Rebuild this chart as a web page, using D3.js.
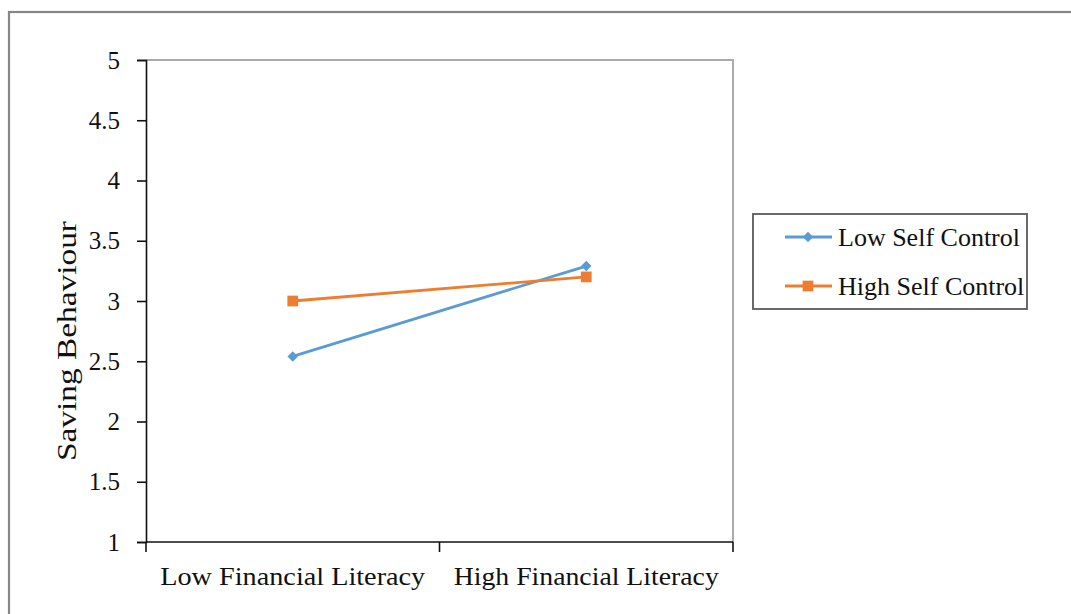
<!DOCTYPE html>
<html>
<head>
<meta charset="utf-8">
<script src="https://cdn.jsdelivr.net/npm/d3@7"></script>
<style>
  html, body { margin: 0; padding: 0; background: #fff; }
  svg { display: block; }
  text { font-family: "Liberation Serif", "Times New Roman", serif; fill: #111; }
</style>
</head>
<body>
<script>
// Categories on the x axis
const categories = ["Low Financial Literacy", "High Financial Literacy"];
// Series names (legend order)
const seriesNames = ["Low Self Control", "High Self Control"];
// Saving behaviour means per category
const lowSelfControl = [2.54, 3.29];
const highSelfControl = [3.00, 3.20];
// Y axis tick values
const yTicks = [1, 1.5, 2, 2.5, 3, 3.5, 4, 4.5, 5];

const W = 1071, H = 614;
const plot = { left: 146, right: 733, top: 60, bottom: 542 };
const colors = ["#5B9BD5", "#ED7D31"];

const svg = d3.select("body").append("svg").attr("width", W).attr("height", H);

// Outer chart frame (runs past the right and bottom edges)
svg.append("rect")
  .attr("x", 9).attr("y", 12).attr("width", 1080).attr("height", 620)
  .attr("fill", "none").attr("stroke", "#878787").attr("stroke-width", 2.2);

const x = d3.scaleBand().domain(categories).range([plot.left, plot.right]);
const y = d3.scaleLinear().domain([1, 5]).range([plot.bottom, plot.top]);

// Plot area border on top and right
svg.append("path")
  .attr("d", `M${plot.left},${y(5)}H${plot.right}V${plot.bottom}`)
  .attr("fill", "none").attr("stroke", "#ababab").attr("stroke-width", 2);

// Y axis
const yAxis = d3.axisLeft(y).tickValues(yTicks).tickSize(9).tickPadding(17)
  .tickFormat(d => d3.format("")(d));
const gy = svg.append("g").attr("transform", `translate(${plot.left},0)`).call(yAxis);
gy.attr("font-size", null).attr("font-family", null);
gy.select(".domain").attr("stroke", "#111").attr("stroke-width", 1.6);
gy.selectAll(".tick line").attr("stroke", "#111").attr("stroke-width", 1.6);
gy.selectAll(".tick text").style("font-size", "25px")
  .attr("fill", "#111");

// X axis: ticks at band boundaries
const gx = svg.append("g").attr("transform", `translate(0,${plot.bottom})`);
gx.append("line").attr("x1", plot.left).attr("x2", plot.right)
  .attr("stroke", "#111").attr("stroke-width", 1.6);
const boundaries = [plot.left, ...categories.map(c => x(c) + x.bandwidth())];
gx.selectAll("line.tk").data(boundaries).join("line").attr("class", "tk")
  .attr("x1", d => d).attr("x2", d => d).attr("y1", 0).attr("y2", 10)
  .attr("stroke", "#111").attr("stroke-width", 1.6);
gx.selectAll("text").data(categories).join("text")
  .attr("x", d => x(d) + x.bandwidth() / 2)
  .attr("y", 43)
  .attr("text-anchor", "middle")
  .style("font-size", "26px")
  .attr("textLength", 265).attr("lengthAdjust", "spacingAndGlyphs")
  .text(d => d);

// Y axis title
svg.append("text")
  .attr("transform", `translate(76,341) rotate(-90)`)
  .attr("text-anchor", "middle")
  .style("font-size", "27px")
  .attr("textLength", 240).attr("lengthAdjust", "spacingAndGlyphs")
  .text("Saving Behaviour");

// Series lines and markers
const series = [lowSelfControl, highSelfControl];
const cx = i => x(categories[i]) + x.bandwidth() / 2;
const line = d3.line().x((d, i) => cx(i)).y(d => y(d));
// Diamond: a square turned 45 degrees; square marker as is
const markers = [
  { path: d3.symbol().type(d3.symbolSquare).size(55)(), rot: 45 },
  { path: d3.symbol().type(d3.symbolSquare).size(115)(), rot: 0 }
];

series.forEach((vals, s) => {
  svg.append("path").datum(vals).attr("d", line)
    .attr("fill", "none").attr("stroke", colors[s]).attr("stroke-width", 2.8);
  svg.selectAll(`path.m${s}`).data(vals).join("path").attr("class", `m${s}`)
    .attr("transform", (d, i) => `translate(${cx(i)},${y(d)}) rotate(${markers[s].rot})`)
    .attr("d", markers[s].path).attr("fill", colors[s]);
});

// Legend
const lg = svg.append("g");
lg.append("rect").attr("x", 753).attr("y", 214).attr("width", 274).attr("height", 95)
  .attr("fill", "#fff").attr("stroke", "#5a5a5a").attr("stroke-width", 1.8);
const rowsY = [237, 286];
seriesNames.forEach((name, s) => {
  const g = lg.append("g").attr("transform", `translate(0,${rowsY[s]})`);
  g.append("line").attr("x1", 785).attr("x2", 832).attr("y1", 0).attr("y2", 0)
    .attr("stroke", colors[s]).attr("stroke-width", 2.8);
  g.append("path").attr("transform", `translate(808,0) rotate(${markers[s].rot})`)
    .attr("d", markers[s].path).attr("fill", colors[s]);
  g.append("text").attr("x", 838).attr("y", 9).style("font-size", "26px").text(name);
});
</script>
</body>
</html>
